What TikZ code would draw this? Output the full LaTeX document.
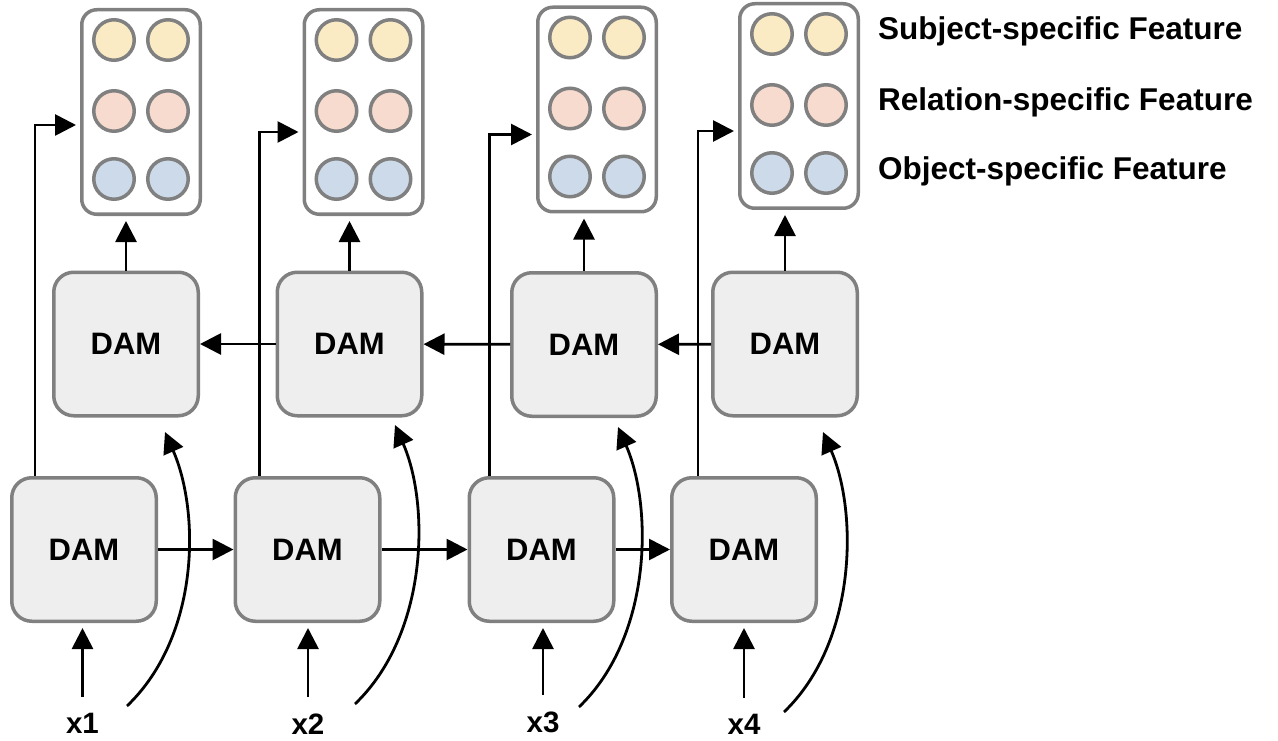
\documentclass[tikz,border=0pt]{standalone}
\usepackage{fontspec}
\setmainfont{Liberation Sans}
\usetikzlibrary{arrows.meta,calc,positioning}
\definecolor{boxgray}{HTML}{808080}
\definecolor{damfill}{HTML}{EEEEEE}
\definecolor{subjfill}{HTML}{FAEBC5}
\definecolor{relfill}{HTML}{F8DBCF}
\definecolor{objfill}{HTML}{CDDAEA}

\begin{document}
\begin{tikzpicture}[x=1pt, y=-1pt,
  dam/.style={rectangle, rounded corners=20pt, draw=boxgray, fill=damfill, line width=3.5pt,
    minimum width=144.5pt, minimum height=143.5pt, font=\bfseries\fontsize{31}{36}\selectfont},
  featbox/.style={rectangle, rounded corners=15pt, draw=boxgray, fill=white, line width=3.5pt,
    minimum width=118.5pt, minimum height=204.5pt},
  feat/.style={circle, draw=boxgray, line width=3.5pt, minimum size=40.5pt, inner sep=0pt},
  inlbl/.style={font=\bfseries\fontsize{29.5}{34}\selectfont, inner sep=0pt, anchor=base},
  legend/.style={font=\bfseries\fontsize{31.5}{36}\selectfont, inner sep=0pt, anchor=base west},
  arr/.style={-{Triangle[length=21pt,width=21pt]}, line width=2.8pt, black}]
  \useasboundingbox (0,0) rectangle (1278,741);

  \node[dam](B1) at (84,549.5){DAM};
  \node[dam](B2) at (307.5,549.5){DAM};
  \node[dam](B3) at (541.5,549.5){DAM};
  \node[dam](B4) at (744,549.5){DAM};

  \node[dam](T1) at (126,344){DAM};
  \node[dam](T2) at (349.5,344){DAM};
  \node[dam](T3) at (584,344.5){DAM};
  \node[dam](T4) at (785,344){DAM};

  \node[featbox](F1) at (141,112){};
  \node[featbox](F2) at (363.5,112){};
  \node[featbox](F3) at (597,109.5){};
  \node[featbox](F4) at (799,106){};

  \foreach \f in {F1,F2,F3,F4}
    \foreach \c/\dx in {l/-27,r/27}{
      \node[feat, fill=subjfill](\f-sub-\c) at ([shift={(\dx,-72)}]\f){};
      \node[feat, fill=relfill](\f-rel-\c) at ([shift={(\dx,-1)}]\f){};
      \node[feat, fill=objfill](\f-obj-\c) at ([shift={(\dx,67)}]\f){};
    }

  \node[legend](Lsub) at (878,40){Subject-specific Feature};
  \node[legend](Lrel) at (878,110.5){Relation-specific Feature};
  \node[legend](Lobj) at (878,180){Object-specific Feature};

  \node[inlbl](x1) at (82.5,733){x1};
  \node[inlbl](x2) at (308,734){x2};
  \node[inlbl](x3) at (543,732){x3};
  \node[inlbl](x4) at (744,734){x4};

  \draw[arr] (B1) -- (B2);
  \draw[arr] (B2) -- (B3);
  \draw[arr] (B3) -- (B4);
  \draw[arr] (T4) -- (T3);
  \draw[arr] (T3) -- (T2);
  \draw[arr] (T2) -- (T1);

  \foreach \i in {1,...,4}{
    \draw[arr, shorten <=16pt, shorten >=5pt] (x\i.north) -- (x\i.north |- B\i.south);
    \draw[arr, shorten >=5pt] (T\i.north) -- (T\i.north |- F\i.south);
  }

  \foreach \i/\dx/\dy in {1/25/-13, 2/26/-20, 3/22/-25, 4/28/-25}
    \draw[arr, shorten >=4pt] ([xshift=\dx pt]B\i.north west) |- ([yshift=\dy pt]F\i.west);

  \foreach \i/\sx/\sy/\tx/\ty in {1/127/706/165/432, 2/355/704/395/425, 3/579/707/618/427, 4/784/712/823/432}{
    \coordinate (s\i) at (\sx,\sy);
    \coordinate (t\i) at (\tx,\ty);
    \draw[arr] (s\i) .. controls +(73,-70) and +(35,80) .. (t\i);
  }
\end{tikzpicture}
\end{document}
